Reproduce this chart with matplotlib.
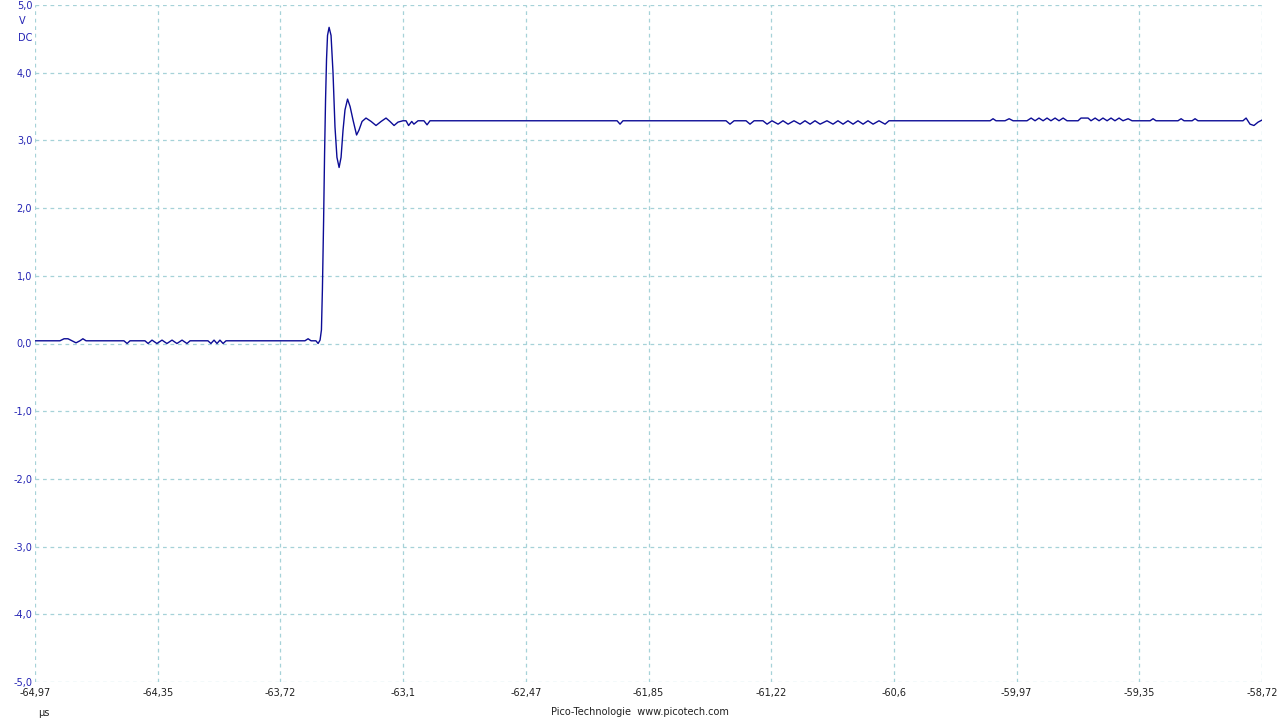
import matplotlib
matplotlib.use("Agg")
import matplotlib.pyplot as plt

# ---------------- DATA ----------------
# time in microseconds, voltage in volts
t_us = [
    -64.970, -64.843, -64.822, -64.802, -64.782, -64.761, -64.741, -64.726, -64.710,
    -64.517, -64.501, -64.486,
    -64.410, -64.394, -64.374, -64.349, -64.323, -64.298, -64.272, -64.247, -64.221, -64.196, -64.180,
    -64.089, -64.074, -64.058, -64.043, -64.028, -64.012, -63.997,
    -63.595, -63.579, -63.564, -63.539, -63.528, -63.518,
    -63.511, -63.506, -63.500, -63.495, -63.490, -63.485, -63.480, -63.472,
    -63.462, -63.452, -63.442, -63.432, -63.421, -63.411, -63.401, -63.391, -63.378,
    -63.365, -63.350, -63.332, -63.320, -63.304, -63.284, -63.258, -63.233, -63.207,
    -63.182, -63.162, -63.141, -63.121, -63.096, -63.080, -63.067, -63.051, -63.040,
    -63.019, -62.989, -62.973, -62.958,
    -62.005, -61.990, -61.975,
    -61.455, -61.450, -61.430, -61.409, -61.348, -61.328, -61.307, -61.262, -61.241,
    -61.216, -61.185, -61.160, -61.134, -61.104, -61.073, -61.048, -61.022, -60.997,
    -60.971, -60.936, -60.905, -60.880, -60.854, -60.829, -60.803, -60.778, -60.752,
    -60.727, -60.701, -60.671, -60.640, -60.620,
    -60.105, -60.090, -60.075, -60.029, -60.008, -59.988,
    -59.917, -59.896, -59.876, -59.856, -59.835, -59.815, -59.795, -59.774, -59.754,
    -59.733, -59.713, -59.657, -59.642, -59.606, -59.591, -59.570, -59.550, -59.530,
    -59.509, -59.489, -59.469, -59.448, -59.428, -59.402, -59.382,
    -59.290, -59.275, -59.260, -59.148, -59.132, -59.117, -59.076, -59.061, -59.046,
    -58.817, -58.801, -58.781, -58.761, -58.740, -58.720,
]
volts = [
    0.04, 0.04, 0.07, 0.07, 0.04, 0.01, 0.04, 0.07, 0.04,
    0.04, 0.00, 0.04,
    0.04, 0.00, 0.05, 0.00, 0.05, 0.00, 0.05, 0.00, 0.05, 0.00, 0.04,
    0.04, 0.00, 0.05, 0.00, 0.05, 0.00, 0.04,
    0.04, 0.07, 0.04, 0.04, 0.00, 0.05,
    0.20, 0.80, 1.80, 2.80, 3.60, 4.20, 4.55, 4.67,
    4.55, 4.00, 3.20, 2.75, 2.60, 2.75, 3.15, 3.45, 3.61,
    3.50, 3.30, 3.08, 3.15, 3.28, 3.33, 3.28, 3.22, 3.28,
    3.33, 3.28, 3.22, 3.27, 3.29, 3.29, 3.22, 3.28, 3.24,
    3.29, 3.29, 3.23, 3.29,
    3.29, 3.24, 3.29,
    3.29, 3.29, 3.24, 3.29, 3.29, 3.24, 3.29, 3.29, 3.24,
    3.29, 3.24, 3.29, 3.24, 3.29, 3.24, 3.29, 3.24, 3.29,
    3.24, 3.29, 3.24, 3.29, 3.24, 3.29, 3.24, 3.29, 3.24,
    3.29, 3.24, 3.29, 3.24, 3.29,
    3.29, 3.32, 3.29, 3.29, 3.32, 3.29,
    3.29, 3.33, 3.29, 3.33, 3.29, 3.33, 3.29, 3.33, 3.29,
    3.33, 3.29, 3.29, 3.33, 3.33, 3.29, 3.33, 3.29, 3.33,
    3.29, 3.33, 3.29, 3.33, 3.29, 3.32, 3.29,
    3.29, 3.32, 3.29, 3.29, 3.32, 3.29, 3.29, 3.32, 3.29,
    3.29, 3.33, 3.24, 3.22, 3.27, 3.30,
]

x_ticks = [-64.97, -64.345, -63.72, -63.095, -62.47, -61.845, -61.22, -60.595, -59.97, -59.345, -58.72]
x_labels = ["-64,97", "-64,35", "-63,72", "-63,1", "-62,47", "-61,85",
            "-61,22", "-60,6", "-59,97", "-59,35", "-58,72"]
y_ticks = [5, 4, 3, 2, 1, 0, -1, -2, -3, -4, -5]
y_labels = ["5,0", "4,0", "3,0", "2,0", "1,0", "0,0", "-1,0", "-2,0", "-3,0", "-4,0", "-5,0"]

# ---------------- STYLE ----------------
trace_color = "#0c0c96"
label_blue = "#2424b4"
grid_color = "#a6d2d8"
plt.rcParams["font.family"] = ["DejaVu Sans"]

fig = plt.figure(figsize=(12.8, 7.2), dpi=100)
ax = fig.add_axes([35 / 1280, 1 - 682 / 720, 1227 / 1280, 677 / 720])

ax.plot(t_us, volts, color=trace_color, lw=1.0, solid_joinstyle="round")

ax.set_xlim(x_ticks[0], x_ticks[-1])
ax.set_ylim(-5, 5)
ax.set_xticks(x_ticks)
ax.set_xticklabels(x_labels, fontsize=7, color="#202020")
ax.set_yticks(y_ticks)
ax.set_yticklabels(y_labels, fontsize=7, color=label_blue)
ax.tick_params(axis="both", length=0)
ax.tick_params(axis="x", pad=4)
ax.tick_params(axis="y", pad=2)

for s in ax.spines.values():
    s.set_visible(False)
ax.grid(True, color=grid_color, lw=0.9, linestyle=(0, (3, 3)))
ax.set_axisbelow(True)

# unit labels
fig.text(19 / 1280, 1 - 21 / 720, "V", fontsize=7, color=label_blue, va="center")
fig.text(18 / 1280, 1 - 38 / 720, "DC", fontsize=7, color=label_blue, va="center")
fig.text(38 / 1280, 1 - 713 / 720, "µs", fontsize=7, color="#202020", va="center")
fig.text(640 / 1280, 1 - 712 / 720, "Pico-Technologie  www.picotech.com",
         fontsize=7, color="#202020", ha="center", va="center")

fig.savefig("out.png", dpi=100)
